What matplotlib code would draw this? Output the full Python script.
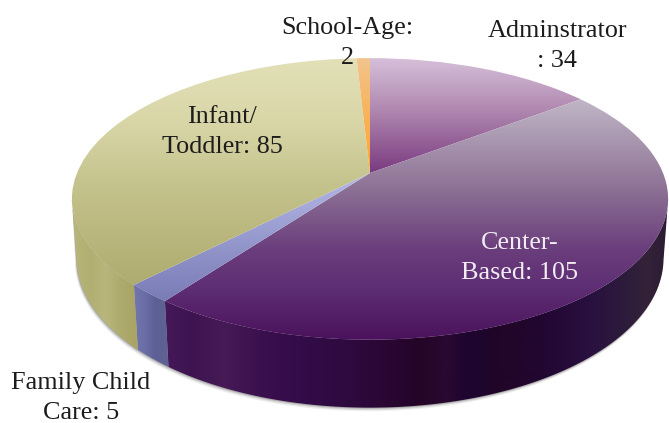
# 3D looking pie of staff counts, drawn in pixel coords of the 669x423 canvas
import matplotlib
matplotlib.use("Agg")
import matplotlib.pyplot as plt
from matplotlib.colors import to_rgb
from matplotlib.patches import Polygon
from matplotlib.path import Path
from matplotlib.transforms import Transform
import numpy as np

categories = ["Adminstrator", "Center-Based", "Family Child Care", "Infant/Toddler", "School-Age"]
values = [34, 105, 5, 85, 2]
label_texts = ["Adminstrator\n: 34", "Center-\nBased: 105", "Family Child\nCare: 5",
               "Infant/\nToddler: 85", "School-Age:\n2"]
label_pos = [(557, 46), (520, 258), (81, 398), (222, 132), (347, 43)]
label_colors = ["#1c1c1c", "#f1ecf2", "#1c1c1c", "#1c1c1c", "#1c1c1c"]

# colour ramps for the top faces (pixel y, colour)
top_ramps = [
    ([58, 110, 173], ["#d6c0da", "#b088b0", "#7a3a80"]),
    ([100, 190, 250, 285, 340], ["#c0b6c6", "#8c7094", "#6a3d7c", "#5f2f75", "#4a125c"]),
    ([170, 285, 305], ["#b7bae6", "#8083bc", "#7679b2"]),
    ([58, 120, 180, 300], ["#e3e0b8", "#d9d7a8", "#c6c48e", "#aaa86a"]),
    ([58, 110, 173], ["#f2c48e", "#f8b45e", "#ffa52e"]),
]
# colour stripes for the side faces (pixel x, colour)
side_ramps = [
    ([560, 669], ["#3a2040", "#3a2040"]),
    ([165, 190, 225, 260, 300, 345, 380, 420, 445, 470, 500, 540, 590, 620, 645, 668],
     ["#45195a", "#3e1450", "#451a55", "#3a104e", "#340c48", "#2e0a40", "#2b0735", "#240528",
      "#2a0830", "#1c0530", "#220628", "#210630", "#2a1040", "#2c1a3c", "#332238", "#2c1c34"]),
    ([133, 145, 155, 170], ["#7476ad", "#6a6da6", "#5d6095", "#5f6292"]),
    ([72, 90, 105, 120, 134], ["#b9b67c", "#b2af72", "#b9b67c", "#aeab6e", "#a8a566"]),
    ([340, 372], ["#c88a3a", "#c88a3a"]),
]

# perspective of the disc
cx, cy = 370, 173
rx, ry = 293, 136
tilt = 0.184
depth = 59
shrink = 0.015
# rim angles where the side stops being visible (left and right silhouette)
front_from = 180 + np.degrees(np.arcsin(tilt))
front_to = 360 - np.degrees(np.arcsin(tilt))


def project(x, y):
    w = 1 + tilt * y
    return np.column_stack([cx + rx * x / w, cy - ry * y / w])


def project_bottom(x, y):
    w = 1 + tilt * y + shrink
    return np.column_stack([cx + rx * x / w, cy + (depth - ry * y) / w])


class DiscTransform(Transform):
    input_dims = 2
    output_dims = 2
    is_separable = False

    def transform_non_affine(self, values):
        values = np.asarray(values)
        return project(values[:, 0], values[:, 1])

    def transform_path_non_affine(self, path):
        return Path(self.transform_non_affine(path.vertices), path.codes)


def ramp(positions, colors):
    stops = np.array([to_rgb(c) for c in colors])
    grid = np.arange(0, 700)
    return np.column_stack([np.interp(grid, positions, stops[:, i]) for i in range(3)])


def side_outline(t_deg):
    t = np.radians(t_deg)
    x, y = np.cos(t), np.sin(t)
    return np.vstack([project(x, y), project_bottom(x, y)[::-1]])


fig = plt.figure(figsize=(6.69, 4.23), dpi=100)
ax = fig.add_axes([0, 0, 1, 1])
wedges, _ = ax.pie(values, startangle=90, counterclock=False, radius=1)
disc = DiscTransform() + ax.transData

# soft shadow under the rim
t = np.radians(np.linspace(front_from, front_to, 300))
for off, alpha in [(3.5, 0.10), (2.2, 0.18), (1.0, 0.30)]:
    low = project_bottom(np.cos(t), np.sin(t))
    up = project(np.cos(t), np.sin(t))
    low[:, 1] += off
    low[:, 0] -= off * 0.4
    ax.add_patch(Polygon(np.vstack([up, low[::-1]]), closed=True, fc="#555555", ec="none",
                         alpha=alpha, zorder=1))

# side faces, only the part of each rim that faces the viewer
for i, w in enumerate(wedges):
    angles = np.linspace(w.theta1, w.theta2, 300) % 360
    angles = np.sort(angles[(angles >= front_from) & (angles <= front_to)])
    if len(angles) < 2:
        continue
    poly = Polygon(side_outline(angles), closed=True, fc="none", ec="none", zorder=2)
    ax.add_patch(poly)
    stripes = ramp(*side_ramps[i])[np.newaxis, :, :]
    im = ax.imshow(stripes, extent=(0, 700, 423, 0), aspect="auto", zorder=2,
                   interpolation="bilinear")
    im.set_clip_path(poly)

# top faces with vertical gradient
for i, w in enumerate(wedges):
    w.set_transform(disc)
    w.set_facecolor("none")
    w.set_edgecolor("none")
    w.set_zorder(3)
    grad = ramp(*top_ramps[i])[:, np.newaxis, :]
    im = ax.imshow(grad, extent=(0, 700, 700, 0), aspect="auto", zorder=3,
                   interpolation="bilinear")
    im.set_clip_path(w)

for txt, pos, col in zip(label_texts, label_pos, label_colors):
    ax.text(pos[0], pos[1], txt, color=col, fontsize=18.8, family="Liberation Serif",
            ha="center", va="center", linespacing=1.48, zorder=5)

ax.set_aspect("auto")
ax.set_xlim(0, 669)
ax.set_ylim(423, 0)
ax.axis("off")
fig.savefig("out.png", dpi=100)
